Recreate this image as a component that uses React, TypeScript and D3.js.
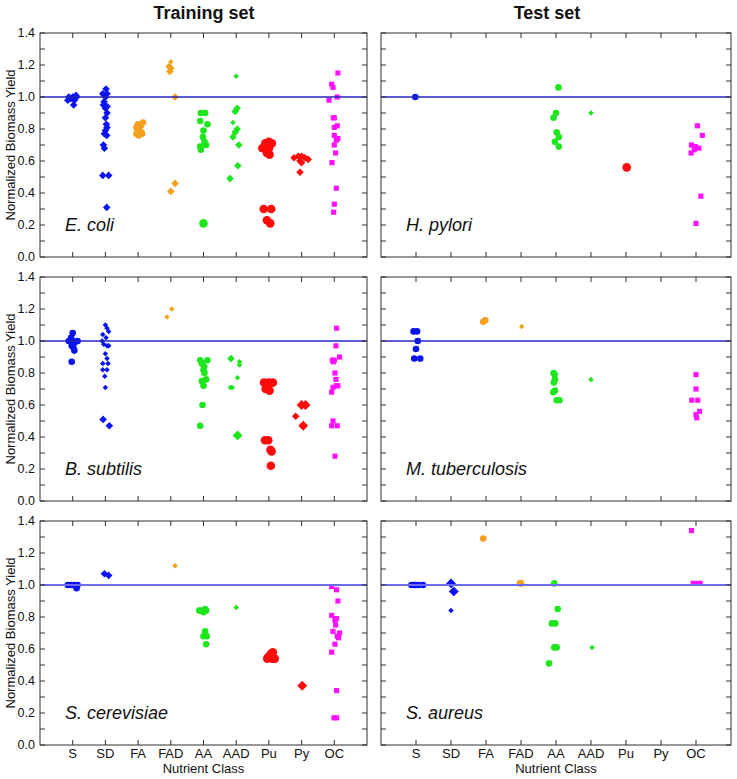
import React from 'react';
import * as d3 from 'd3';

const CATEGORIES = ['S', 'SD', 'FA', 'FAD', 'AA', 'AAD', 'Pu', 'Py', 'OC'];
const COLUMN_TITLES = ['Training set', 'Test set'];
const Y_LABEL = 'Normalized Biomass Yield';
const X_LABEL = 'Nutrient Class';
const Y_MAJOR = [0, 0.2, 0.4, 0.6, 0.8, 1.0, 1.2, 1.4];
const Y_MINOR = [0.1, 0.3, 0.5, 0.7, 0.9, 1.1, 1.3];
const REFERENCE = 1.0;

// [value, jitter (in category units), weight]
type Pt = [number, number, number];

const ECOLI: Record<string, Pt[]> = {
  S: [[1.0, -0.12, 2], [1.0, 0.0, 2], [1.0, 0.12, 2], [0.99, -0.06, 2], [0.98, 0.05, 2], [0.98, -0.15, 2], [0.95, 0.03, 2], [1.01, 0.1, 2]],
  SD: [[1.05, 0.02, 2], [1.02, -0.08, 2], [1.02, 0.05, 2], [1.0, 0.0, 2], [0.97, -0.04, 2], [0.95, -0.06, 2], [0.94, 0.05, 2], [0.93, 0.0, 2], [0.9, 0.05, 2], [0.87, 0.0, 2], [0.83, 0.03, 2], [0.81, 0.05, 2], [0.79, 0.0, 2], [0.77, -0.03, 2], [0.76, 0.04, 2], [0.7, -0.06, 2], [0.68, -0.03, 2], [0.51, -0.08, 2], [0.51, 0.1, 2], [0.31, 0.04, 2]],
  FA: [[0.84, 0.15, 2], [0.83, 0.0, 2], [0.82, 0.08, 2], [0.81, -0.05, 2], [0.79, 0.0, 2], [0.78, 0.1, 2], [0.77, -0.05, 2], [0.76, 0.02, 2], [0.77, 0.12, 2]],
  FAD: [[1.22, 0.0, 1], [1.19, -0.05, 2], [1.18, 0.0, 2], [1.16, -0.03, 2], [1.0, 0.13, 2], [0.46, 0.13, 2], [0.41, 0.0, 2]],
  AA: [[0.9, -0.08, 2], [0.9, 0.05, 2], [0.85, -0.1, 2], [0.83, 0.12, 2], [0.79, 0.0, 2], [0.75, -0.02, 2], [0.72, 0.03, 2], [0.7, 0.08, 2], [0.69, -0.1, 2], [0.67, -0.08, 2], [0.21, 0.0, 3]],
  AAD: [[1.13, 0.0, 1], [0.93, 0.03, 2], [0.91, -0.03, 2], [0.84, -0.1, 1], [0.8, 0.03, 2], [0.78, -0.03, 2], [0.75, -0.1, 2], [0.7, 0.08, 2], [0.57, 0.05, 2], [0.49, -0.19, 2]],
  Pu: [[0.71, -0.11, 3], [0.71, 0.09, 3], [0.72, 0.0, 3], [0.68, -0.2, 3], [0.68, 0.0, 3], [0.65, -0.06, 3], [0.64, 0.02, 3], [0.3, -0.16, 3], [0.3, 0.07, 3], [0.23, -0.06, 3], [0.21, 0.04, 3]],
  Py: [[0.62, -0.23, 2], [0.63, -0.1, 2], [0.63, 0.0, 2], [0.62, 0.1, 2], [0.61, 0.2, 2], [0.6, -0.05, 2], [0.59, 0.0, 2], [0.53, -0.05, 2]],
  OC: [[1.15, 0.11, 2], [1.08, -0.08, 2], [1.06, -0.04, 2], [1.0, 0.09, 2], [0.98, -0.16, 2], [0.87, 0.0, 2], [0.87, -0.03, 2], [0.82, 0.09, 2], [0.81, 0.0, 2], [0.76, 0.0, 2], [0.74, 0.11, 2], [0.7, 0.0, 2], [0.73, 0.06, 2], [0.65, 0.04, 2], [0.59, -0.07, 2], [0.43, 0.06, 2], [0.33, 0.0, 2], [0.28, -0.02, 2]],
};

const BSUB: Record<string, Pt[]> = {
  S: [[1.05, 0.0, 2], [1.02, -0.05, 2], [1.0, -0.12, 2], [1.0, 0.0, 2], [1.0, 0.15, 2], [0.99, 0.06, 2], [0.97, -0.03, 2], [0.96, 0.02, 2], [0.94, 0.05, 2], [0.87, -0.03, 2]],
  SD: [[1.1, 0.0, 1], [1.08, 0.05, 1], [1.06, 0.1, 1], [1.04, -0.08, 1], [1.02, 0.02, 1], [1.0, -0.1, 1], [0.98, -0.05, 1], [0.97, 0.05, 1], [0.97, 0.1, 1], [0.92, 0.0, 1], [0.89, 0.05, 1], [0.86, -0.08, 1], [0.86, 0.08, 1], [0.82, -0.08, 1], [0.82, 0.05, 1], [0.78, -0.02, 1], [0.71, 0.0, 1], [0.51, -0.07, 2], [0.47, 0.12, 2]],
  FA: [],
  FAD: [[1.15, -0.12, 1], [1.2, 0.03, 1]],
  AA: [[0.88, -0.1, 2], [0.88, 0.12, 2], [0.86, -0.05, 2], [0.84, 0.02, 2], [0.82, 0.0, 2], [0.8, 0.03, 2], [0.76, 0.08, 2], [0.75, -0.05, 2], [0.72, 0.0, 2], [0.6, -0.03, 2], [0.47, -0.1, 2]],
  AAD: [[0.89, -0.16, 2], [0.87, 0.1, 1], [0.85, 0.1, 1], [0.77, 0.04, 1], [0.71, -0.18, 1], [0.71, -0.12, 1], [0.41, 0.04, 3]],
  Pu: [[0.74, -0.15, 3], [0.74, 0.0, 3], [0.74, 0.12, 3], [0.72, -0.05, 3], [0.7, -0.1, 3], [0.69, 0.02, 3], [0.38, -0.12, 3], [0.38, -0.02, 3], [0.32, 0.05, 3], [0.31, 0.08, 3], [0.22, 0.06, 3]],
  Py: [[0.6, 0.0, 3], [0.6, 0.12, 3], [0.53, -0.18, 2], [0.47, 0.05, 3]],
  OC: [[1.08, 0.07, 2], [0.97, 0.05, 2], [0.9, 0.16, 2], [0.88, -0.06, 2], [0.88, 0.0, 2], [0.87, -0.03, 2], [0.8, 0.02, 2], [0.76, 0.05, 2], [0.71, -0.04, 2], [0.72, 0.11, 2], [0.72, 0.06, 2], [0.68, -0.08, 2], [0.5, -0.04, 2], [0.47, -0.08, 2], [0.47, 0.09, 2], [0.28, 0.02, 2]],
};

const SCER: Record<string, Pt[]> = {
  S: [[1.0, -0.15, 2], [1.0, -0.05, 2], [1.0, 0.05, 2], [1.0, 0.15, 2], [0.99, 0.1, 2], [0.98, 0.12, 2]],
  SD: [[1.07, -0.03, 2], [1.06, 0.1, 2]],
  FA: [],
  FAD: [[1.12, 0.13, 1]],
  AA: [[0.85, 0.05, 2], [0.84, -0.13, 2], [0.84, -0.05, 2], [0.84, 0.08, 2], [0.83, 0.0, 2], [0.71, 0.05, 2], [0.68, 0.0, 2], [0.68, 0.1, 2], [0.63, 0.08, 2]],
  AAD: [[0.86, 0.0, 1]],
  Pu: [[0.58, 0.12, 3], [0.57, 0.06, 3], [0.55, -0.02, 3], [0.54, -0.05, 3], [0.54, 0.1, 3], [0.54, 0.18, 3]],
  Py: [[0.37, 0.02, 3]],
  OC: [[0.99, -0.08, 2], [0.97, 0.07, 2], [0.9, 0.11, 2], [0.81, -0.08, 2], [0.79, 0.07, 2], [0.78, 0.02, 2], [0.75, 0.04, 2], [0.71, -0.04, 2], [0.7, 0.16, 2], [0.68, 0.09, 2], [0.67, 0.13, 2], [0.63, 0.02, 2], [0.58, -0.08, 2], [0.34, 0.07, 2], [0.17, -0.01, 2], [0.17, 0.07, 2]],
};

const HPYL: Record<string, Pt[]> = {
  S: [[1.0, -0.02, 2]],
  AA: [[1.06, 0.07, 2], [0.9, 0.0, 2], [0.87, -0.07, 2], [0.78, 0.02, 2], [0.75, 0.08, 2], [0.72, -0.03, 2], [0.69, 0.08, 2]],
  AAD: [[0.9, 0.0, 1]],
  Pu: [[0.56, 0.02, 3]],
  OC: [[0.82, 0.04, 2], [0.76, 0.18, 2], [0.7, -0.13, 2], [0.69, -0.02, 2], [0.68, 0.08, 2], [0.67, -0.05, 2], [0.65, -0.14, 2], [0.38, 0.14, 2], [0.21, 0.0, 2]],
};

const MTUB: Record<string, Pt[]> = {
  S: [[1.06, -0.07, 2], [1.06, 0.03, 2], [1.0, 0.05, 2], [0.95, 0.0, 2], [0.89, -0.05, 2], [0.89, 0.12, 2]],
  FA: [[1.13, -0.02, 2], [1.12, -0.08, 2]],
  FAD: [[1.09, 0.02, 1]],
  AA: [[0.8, -0.07, 2], [0.79, -0.04, 2], [0.76, -0.03, 2], [0.74, -0.06, 2], [0.69, -0.03, 2], [0.68, -0.08, 2], [0.63, 0.02, 2], [0.63, 0.1, 2]],
  AAD: [[0.76, 0.0, 1]],
  OC: [[0.79, 0.0, 2], [0.7, 0.0, 2], [0.63, -0.12, 2], [0.63, 0.05, 2], [0.56, 0.1, 2], [0.54, 0.0, 2], [0.52, 0.02, 2]],
};

const SAUR: Record<string, Pt[]> = {
  S: [[1.0, -0.13, 2], [1.0, -0.05, 2], [1.0, 0.0, 2], [1.0, 0.08, 2], [1.0, 0.2, 2]],
  SD: [[1.01, 0.0, 3], [0.96, 0.08, 3], [0.84, 0.0, 1]],
  FA: [[1.29, -0.08, 2]],
  FAD: [[1.01, -0.03, 2], [1.01, 0.0, 2]],
  AA: [[1.01, -0.05, 2], [0.85, 0.05, 2], [0.76, -0.12, 2], [0.76, -0.02, 2], [0.61, -0.05, 2], [0.61, 0.02, 2], [0.51, -0.2, 2]],
  AAD: [[0.61, 0.03, 1]],
  OC: [[1.34, -0.13, 2], [1.01, -0.08, 2], [1.01, 0.05, 2], [1.01, 0.12, 2]],
};

const CATEGORY_COLORS: Record<string, string> = {
  S: '#0a14f0', SD: '#0a14f0', FA: '#f5a01e', FAD: '#f5a01e',
  AA: '#1ee61e', AAD: '#1ee61e', Pu: '#ff0a0a', Py: '#ff0a0a', OC: '#ff10ff',
};
const CATEGORY_SHAPES: Record<string, string> = {
  S: 'circle', SD: 'diamond', FA: 'circle', FAD: 'diamond', AA: 'circle',
  AAD: 'diamond', Pu: 'circle', Py: 'diamond', OC: 'square',
};

const PANELS = [
  { name: 'E. coli', data: ECOLI, col: 0, row: 0, shapes: { S: 'diamond' } as Record<string, string> },
  { name: 'B. subtilis', data: BSUB, col: 0, row: 1, shapes: {} as Record<string, string> },
  { name: 'S. cerevisiae', data: SCER, col: 0, row: 2, shapes: {} as Record<string, string> },
  { name: 'H. pylori', data: HPYL, col: 1, row: 0, shapes: {} as Record<string, string> },
  { name: 'M. tuberculosis', data: MTUB, col: 1, row: 1, shapes: {} as Record<string, string> },
  { name: 'S. aureus', data: SAUR, col: 1, row: 2, shapes: { FAD: 'circle' } as Record<string, string> },
];

// layout
const W = 737, H = 779;
const COL_X: [number, number][] = [[40, 367], [381, 731]];
const ROW_TOP = [33, 277, 521];
const PH = 224;
const FONT = 'Liberation Sans, Arial, Helvetica, sans-serif';
const TICK = 5;

const radius = d3.scaleLinear().domain([1, 2, 3]).range([2.4, 3.3, 4.3]);

function Marker({ shape, x, y, r, color }: { shape: string; x: number; y: number; r: number; color: string }) {
  if (shape === 'circle') return <circle cx={x} cy={y} r={r} fill={color} />;
  if (shape === 'square') {
    const s = r * 0.78;
    return <rect x={x - s} y={y - s} width={2 * s} height={2 * s} fill={color} />;
  }
  const d = r * 1.15;
  return <path d={`M${x},${y - d}L${x + d},${y}L${x},${y + d}L${x - d},${y}Z`} fill={color} />;
}

function Panel({ p }: { p: typeof PANELS[number] }) {
  const [x0, x1] = COL_X[p.col];
  const top = ROW_TOP[p.row];
  const bottom = top + PH;
  const x = d3.scaleLinear().domain([0, CATEGORIES.length + 1]).range([x0, x1]);
  const y = d3.scaleLinear().domain([0, 1.4]).range([bottom, top]);
  const lineColor = p.row === 2 ? '#6a6af2' : '#2626b8';
  const lineW = p.row === 2 ? 1.8 : 1.3;
  const isLeft = p.col === 0;
  const isBottom = p.row === 2;
  const midY = (top + bottom) / 2;
  const midX = (x0 + x1) / 2;
  const frame = '#303030';
  return (
    <g>
      {/* markers */}
      {CATEGORIES.map((c, ci) => {
        const pts = p.data[c] || [];
        const shape = p.shapes[c] || CATEGORY_SHAPES[c];
        return pts.map((pt, i) => (
          <Marker key={c + i} shape={shape} x={x(ci + 1 + pt[1])} y={y(pt[0])} r={radius(pt[2])} color={CATEGORY_COLORS[c]} />
        ));
      })}
      <line x1={x0} x2={x1} y1={y(REFERENCE)} y2={y(REFERENCE)} stroke={lineColor} strokeWidth={lineW} />
      {/* frame */}
      <rect x={x0} y={top} width={x1 - x0} height={PH} fill="none" stroke={frame} strokeWidth={1} />
      {/* y ticks */}
      {[...Y_MAJOR, ...Y_MINOR].map((v) => (
        <g key={'yt' + v}>
          <line x1={x0} x2={x0 + TICK} y1={y(v)} y2={y(v)} stroke={frame} strokeWidth={1} />
          <line x1={x1} x2={x1 - TICK} y1={y(v)} y2={y(v)} stroke={frame} strokeWidth={1} />
        </g>
      ))}
      {/* x ticks */}
      {CATEGORIES.map((c, ci) => (
        <g key={'xt' + c}>
          <line x1={x(ci + 1)} x2={x(ci + 1)} y1={top} y2={top + TICK} stroke={frame} strokeWidth={1} />
          <line x1={x(ci + 1)} x2={x(ci + 1)} y1={bottom} y2={bottom - TICK} stroke={frame} strokeWidth={1} />
        </g>
      ))}
      {isLeft && Y_MAJOR.map((v) => (
        <text key={'yl' + v} x={x0 - 5} y={y(v)} dy="0.35em" textAnchor="end" fontSize={12.5} fontFamily={FONT} fill="#111">
          {d3.format('.1f')(v)}
        </text>
      ))}
      {isLeft && (
        <text transform={`translate(15,${midY}) rotate(-90)`} textAnchor="middle" fontSize={13} fontFamily={FONT} fill="#111">
          {Y_LABEL}
        </text>
      )}
      {isBottom && CATEGORIES.map((c, ci) => (
        <text key={'xl' + c} x={x(ci + 1)} y={758} textAnchor="middle" fontSize={13} fontFamily={FONT} fill="#111">
          {c}
        </text>
      ))}
      {isBottom && (
        <text x={midX} y={773} textAnchor="middle" fontSize={13} fontFamily={FONT} fill="#111">
          {X_LABEL}
        </text>
      )}
      <text x={x0 + 25} y={bottom - 26} fontSize={18} fontStyle="italic" fontFamily={FONT} fill="#111">
        {p.name}
      </text>
    </g>
  );
}

export default function App() {
  return (
    <div style={{ position: 'absolute', left: 0, top: 0 }}>
      <svg width={W} height={H} style={{ display: 'block', background: '#fff' }}>
        <rect x={0} y={0} width={W} height={H} fill="#fff" />
        <text x={204} y={19} textAnchor="middle" fontSize={18} fontWeight="bold" fontFamily={FONT} fill="#111">
          {COLUMN_TITLES[0]}
        </text>
        <text x={547} y={19} textAnchor="middle" fontSize={18} fontWeight="bold" fontFamily={FONT} fill="#111">
          {COLUMN_TITLES[1]}
        </text>
        {PANELS.map((p) => (
          <Panel key={p.name} p={p} />
        ))}
      </svg>
    </div>
  );
}
